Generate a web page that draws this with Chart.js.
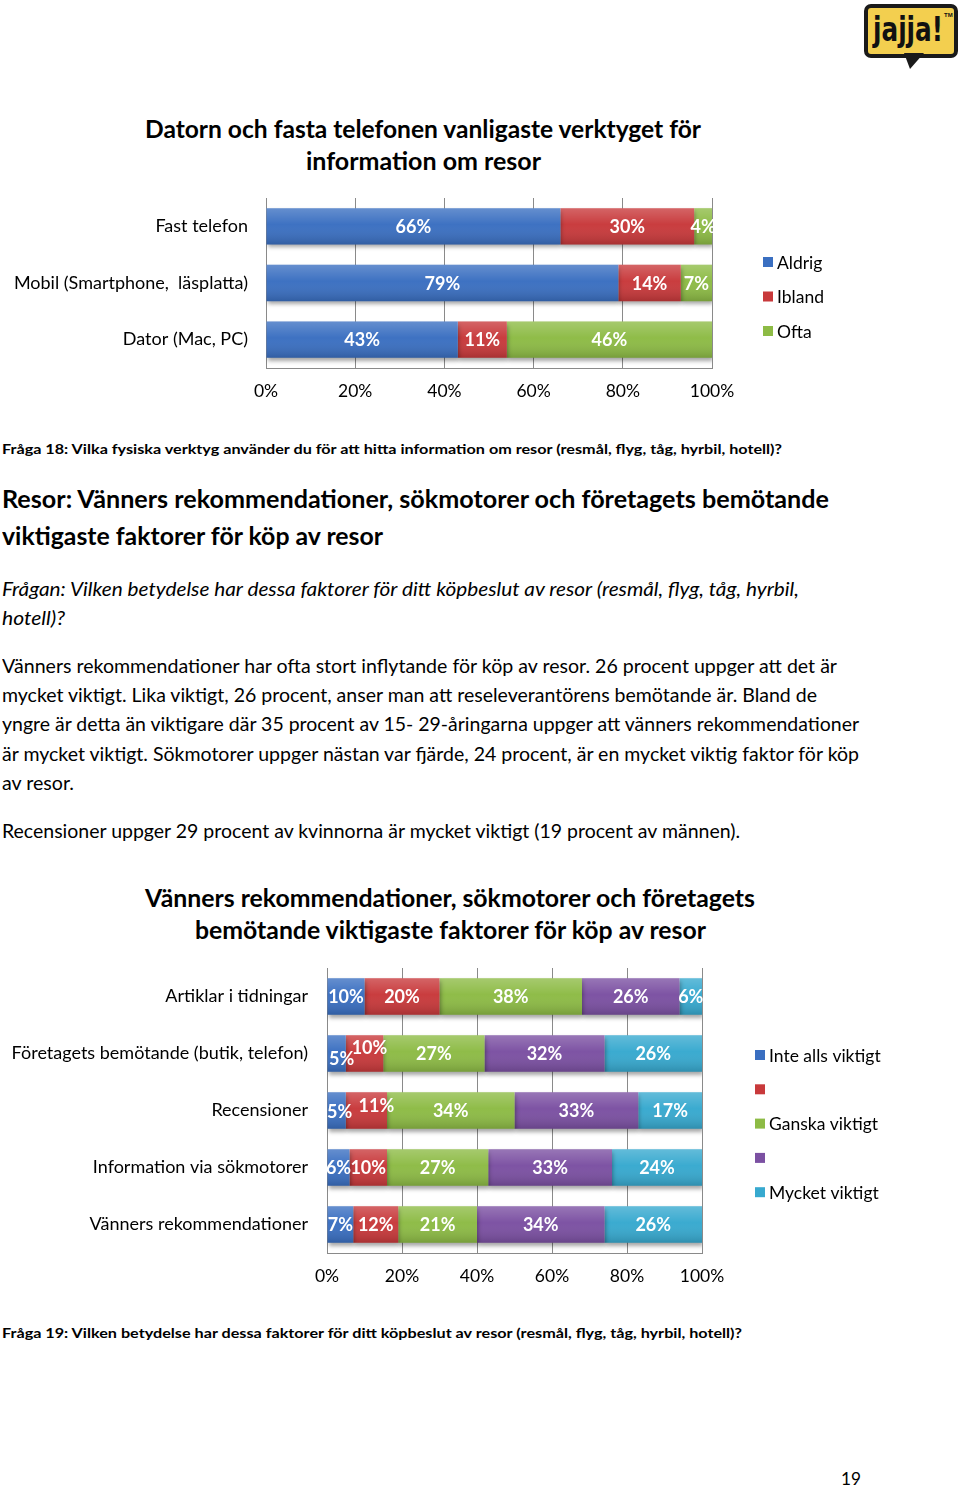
<!DOCTYPE html>
<html><head><meta charset="utf-8">
<script src="https://cdn.jsdelivr.net/npm/chart.js@4.4.1/dist/chart.umd.min.js"></script>
<style>
html,body{margin:0;padding:0;background:#fff;}
body{width:960px;height:1486px;position:relative;overflow:hidden;font-family:Lato,"Open Sans",sans-serif;color:#000;}
.t{position:absolute;white-space:pre;transform-origin:0 50%;}
.b{font-weight:bold;}
.i{font-style:italic;}
canvas{position:absolute;left:0;}
#logo{position:absolute;left:864px;top:4px;width:86px;height:46px;background:#f3cf4f;border:4px solid #1a1a1a;border-radius:7px;}
#logo span{position:absolute;left:5px;top:1px;font:bold 34px "DejaVu Sans Condensed","DejaVu Sans",sans-serif;color:#111;transform-origin:0 0;white-space:pre;}
#logo sup{position:absolute;left:76px;top:4px;font:bold 6px sans-serif;color:#111;}
#tail{position:absolute;left:904px;top:53px;width:0;height:0;border-left:6px solid transparent;border-right:14px solid transparent;border-top:16px solid #1a1a1a;}
</style></head>
<body>
<div id="logo"><span id="logotxt">jajja!</span><sup>TM</sup></div><div id="tail"></div>

<div class="t b" data-x="145" data-y="128" data-w="556" data-s="24">Datorn och fasta telefonen vanligaste verktyget för</div>
<div class="t b" data-x="306" data-y="160" data-w="235" data-s="24">information om resor</div>

<canvas id="c1" width="960" height="220" style="top:190px"></canvas>

<div class="t b" data-x="2" data-y="449" data-w="780" data-s="14">Fråga 18: Vilka fysiska verktyg använder du för att hitta information om resor (resmål, flyg, tåg, hyrbil, hotell)?</div>

<div class="t b" data-x="2" data-y="498" data-w="827" data-s="25">Resor: Vänners rekommendationer, sökmotorer och företagets bemötande</div>
<div class="t b" data-x="2" data-y="535" data-w="381" data-s="25">viktigaste faktorer för köp av resor</div>

<div class="t i" data-x="2" data-y="588" data-w="797" data-s="19">Frågan: Vilken betydelse har dessa faktorer för ditt köpbeslut av resor (resmål, flyg, tåg, hyrbil,</div>
<div class="t i" data-x="2" data-y="617" data-w="63" data-s="19">hotell)?</div>

<div class="t" data-x="2" data-y="665" data-w="835" data-s="19">Vänners rekommendationer har ofta stort inflytande för köp av resor. 26 procent uppger att det är</div>
<div class="t" data-x="2" data-y="694" data-w="815" data-s="19">mycket viktigt. Lika viktigt, 26 procent, anser man att reseleverantörens bemötande är. Bland de</div>
<div class="t" data-x="2" data-y="723" data-w="857" data-s="19">yngre är detta än viktigare där 35 procent av 15- 29-åringarna uppger att vänners rekommendationer</div>
<div class="t" data-x="2" data-y="753" data-w="857" data-s="19">är mycket viktigt. Sökmotorer uppger nästan var fjärde, 24 procent, är en mycket viktig faktor för köp</div>
<div class="t" data-x="2" data-y="782" data-w="72" data-s="19">av resor.</div>
<div class="t" data-x="2" data-y="830" data-w="738" data-s="19">Recensioner uppger 29 procent av kvinnorna är mycket viktigt (19 procent av männen).</div>

<div class="t b" data-x="145" data-y="897" data-w="610" data-s="24">Vänners rekommendationer, sökmotorer och företagets</div>
<div class="t b" data-x="195" data-y="929" data-w="511" data-s="24">bemötande viktigaste faktorer för köp av resor</div>

<canvas id="c2" width="960" height="340" style="top:955px"></canvas>

<div class="t b" data-x="2" data-y="1333" data-w="740" data-s="14">Fråga 19: Vilken betydelse har dessa faktorer för ditt köpbeslut av resor (resmål, flyg, tåg, hyrbil, hotell)?</div>

<div class="t" data-x="841" data-y="1478" data-w="20" data-s="18">19</div>

<script>
// ---------- DATA ----------
const cats1 = ['Fast telefon', 'Mobil (Smartphone,  läsplatta)', 'Dator (Mac, PC)'];
const series1Names = ['Aldrig', 'Ibland', 'Ofta'];
const aldrig = [66, 79, 43];
const ibland = [30, 14, 11];
const ofta = [4, 7, 46];

const cats2 = ['Artiklar i tidningar', 'Företagets bemötande (butik, telefon)', 'Recensioner', 'Information via sökmotorer', 'Vänners rekommendationer'];
const series2Names = ['Inte alls viktigt', '', 'Ganska viktigt', '', 'Mycket viktigt'];
const inteAlls = [10, 5, 5, 6, 7];
const notVery = [20, 10, 11, 10, 12];
const ganska = [38, 27, 34, 27, 21];
const quite = [26, 32, 33, 33, 34];
const mycket = [6, 26, 17, 24, 26];

const xTicks = [0, 20, 40, 60, 80, 100];

// ---------- TEXT LAYOUT ----------
document.querySelectorAll('.t').forEach(el => {
  const s = +el.dataset.s;
  el.style.fontSize = s + 'px';
  el.style.lineHeight = Math.round(s * 1.3) + 'px';
  el.style.left = el.dataset.x + 'px';
  el.style.top = (+el.dataset.y - Math.round(s * 1.3) / 2) + 'px';
});
function fitText() {
  document.querySelectorAll('.t').forEach(el => {
    const w = el.getBoundingClientRect().width;
    const target = +el.dataset.w;
    if (w > 0) el.style.transform = 'scaleX(' + (target / w).toFixed(4) + ')';
  });
  const lt = document.getElementById('logotxt');
  const lw = lt.getBoundingClientRect().width;
  if (lw > 0) lt.style.transform = 'scaleX(' + (70 / lw).toFixed(4) + ')';
}

// ---------- STYLE ----------
const colors = {
  blue: '#3a6fc1', red: '#c8393b', green: '#8dbb45', purple: '#7b50a2', cyan: '#37a9cf'
};
const FONT = 'Lato';

const barFx = {
  id: 'barFx',
  beforeDatasetsDraw(chart) {
    const c = chart.ctx;
    c.save();
    c.shadowColor = 'rgba(0,0,0,0.35)';
    c.shadowBlur = 4; c.shadowOffsetX = 1; c.shadowOffsetY = 3;
  },
  afterDatasetsDraw(chart, args, opts) {
    const c = chart.ctx;
    c.restore();
    const offs = opts.offsets || {};
    chart.data.datasets.forEach((ds, di) => {
      const meta = chart.getDatasetMeta(di);
      meta.data.forEach((bar, i) => {
        const p = bar.getProps(['x', 'y', 'base', 'height'], true);
        const left = Math.min(p.x, p.base), w = Math.abs(p.x - p.base);
        const top = p.y - p.height / 2;
        const g = c.createLinearGradient(0, top, 0, top + p.height);
        g.addColorStop(0, 'rgba(255,255,255,0.22)');
        g.addColorStop(0.45, 'rgba(255,255,255,0.02)');
        g.addColorStop(1, 'rgba(0,0,0,0.16)');
        c.fillStyle = g;
        c.fillRect(left, top, w, p.height);
      });
    });
    c.save();
    c.font = 'bold 18px ' + FONT;
    c.fillStyle = '#ffffff';
    c.textAlign = 'center';
    c.textBaseline = 'middle';
    chart.data.datasets.forEach((ds, di) => {
      const meta = chart.getDatasetMeta(di);
      meta.data.forEach((bar, i) => {
        const p = bar.getProps(['x', 'y', 'base'], true);
        const o = offs[i + '-' + di] || [0, 0];
        c.fillText(ds.data[i] + '%', (p.x + p.base) / 2 + o[0], p.y + 1 + o[1]);
      });
    });
    c.restore();
  }
};

const sideLegend = {
  id: 'sideLegend',
  afterDraw(chart, args, opts) {
    const c = chart.ctx;
    c.save();
    c.font = '17.5px ' + FONT;
    c.textBaseline = 'middle';
    chart.data.datasets.forEach((ds, di) => {
      const y = opts.y0 + di * opts.step;
      c.fillStyle = ds.backgroundColor;
      c.fillRect(opts.x, y - 5, 10, 10);
      c.fillStyle = '#000';
      c.fillText(ds.label, opts.x + 14, y + 1);
    });
    c.restore();
  }
};

function makeChart(id, cats, sets, cfg) {
  return new Chart(document.getElementById(id), {
    type: 'bar',
    data: {
      labels: cats,
      datasets: sets.map(s => ({
        label: s.label, data: s.data, backgroundColor: s.color,
        barPercentage: 0.64, categoryPercentage: 1.0, borderWidth: 0
      }))
    },
    options: {
      indexAxis: 'y', responsive: false, animation: false,
      layout: { autoPadding: false, padding: { left: 0, top: cfg.top, right: cfg.right, bottom: 0 } },
      plugins: {
        legend: { display: false }, tooltip: { enabled: false },
        barFx: { offsets: cfg.offsets || {} },
        sideLegend: cfg.legend
      },
      scales: {
        x: {
          stacked: true, min: 0, max: 100,
          afterBuildTicks(scale) { scale.ticks = xTicks.map(v => ({ value: v })); },
          afterFit(scale) { scale.height = 42; scale.paddingLeft = 0; scale.paddingRight = 0; },
          ticks: { callback: v => v + '%', color: '#000', font: { family: FONT, size: 17.5 }, padding: 13 },
          grid: { color: '#8a8a8a', lineWidth: 1, drawTicks: false },
          border: { display: true, color: '#8a8a8a' }
        },
        y: {
          stacked: true,
          afterFit(scale) { scale.width = cfg.left; scale.paddingTop = 0; scale.paddingBottom = 0; },
          ticks: { color: '#000', font: { family: FONT, size: 18 }, padding: cfg.ypad },
          grid: { display: true, drawOnChartArea: false, drawTicks: false },
          border: { display: true, color: '#8a8a8a' }
        }
      }
    },
    plugins: [barFx, sideLegend]
  });
}

function build() {
  fitText();
  makeChart('c1', cats1, [
    { label: series1Names[0], data: aldrig, color: colors.blue },
    { label: series1Names[1], data: ibland, color: colors.red },
    { label: series1Names[2], data: ofta, color: colors.green }
  ], { top: 8, right: 248, left: 266, ypad: 18, legend: { x: 763, y0: 72, step: 34.5 } });

  makeChart('c2', cats2, [
    { label: series2Names[0], data: inteAlls, color: colors.blue },
    { label: series2Names[1], data: notVery, color: colors.red },
    { label: series2Names[2], data: ganska, color: colors.green },
    { label: series2Names[3], data: quite, color: colors.purple },
    { label: series2Names[4], data: mycket, color: colors.cyan }
  ], { top: 13, right: 258, left: 327, ypad: 19,
       offsets: { '1-0': [5, 5], '1-1': [5, -6], '2-0': [3, 1], '2-1': [10, -5] },
       legend: { x: 755, y0: 100, step: 34.3 } });
}
if (document.fonts && document.fonts.ready) {
  document.fonts.load('17px Lato'); document.fonts.load('bold 17px Lato'); document.fonts.load('italic 19px Lato');
  document.fonts.ready.then(build);
} else build();
</script>
</body></html>
